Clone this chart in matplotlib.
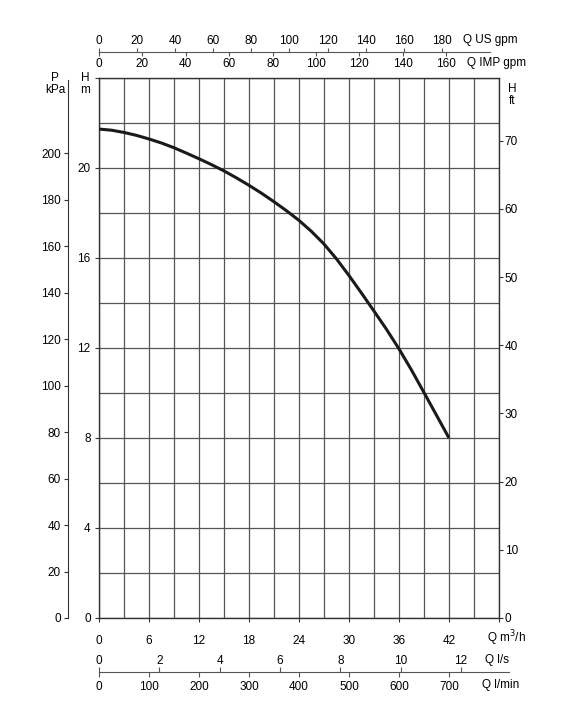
import numpy as np
import matplotlib
matplotlib.use("Agg")
import matplotlib.pyplot as plt

plt.rcParams['font.family'] = ['Liberation Sans', 'DejaVu Sans']

# Pump curve: flow in m3/h, head in m
q_m3h = [0, 1.5, 3, 4.5, 6, 7.5, 9, 10.5, 12, 13.5, 15, 16.5, 18, 19.5, 21,
         22.5, 24, 25.5, 27, 28.5, 30, 31.5, 33, 34.5, 36, 37.5, 39, 40.5, 42]
h_m = [21.73, 21.68, 21.58, 21.45, 21.29, 21.11, 20.90, 20.66, 20.41, 20.15,
       19.87, 19.56, 19.23, 18.88, 18.50, 18.10, 17.67, 17.18, 16.62, 15.96,
       15.22, 14.44, 13.64, 12.83, 11.96, 11.02, 10.02, 9.01, 8.0]

# Tick values of the scales
m3h_ticks = [0, 6, 12, 18, 24, 30, 36, 42]
hm_ticks = [0, 4, 8, 12, 16, 20]
kpa_ticks = [0, 20, 40, 60, 80, 100, 120, 140, 160, 180, 200]
ft_ticks = [0, 10, 20, 30, 40, 50, 60, 70]
usgpm_ticks = [0, 20, 40, 60, 80, 100, 120, 140, 160, 180]
impgpm_ticks = [0, 20, 40, 60, 80, 100, 120, 140, 160]
ls_ticks = [0, 2, 4, 6, 8, 10, 12]
lmin_ticks = [0, 100, 200, 300, 400, 500, 600, 700]

# Unit conversions as drawn on this chart
KPA_PER_M = 9.68
FT_PER_M = 3.3
USGPM_PER_M3H = 4.376
IMPGPM_PER_M3H = 3.84
M3H_PER_LS = 3.62
M3H_PER_LMIN = 0.06

W, H = 567, 725
fig = plt.figure(figsize=(W / 100, H / 100), dpi=100)


def rect(x0, y0, x1, y1):
    # pixel box (top-left origin) -> figure fraction rect
    return [x0 / W, 1 - y1 / H, (x1 - x0) / W, (y1 - y0) / H]


FS = 8.5
dark = '#333333'
gridc = '#555555'

# Main chart
ax = fig.add_axes(rect(99, 78, 499, 618))
ax.plot(q_m3h, h_m, color='#1a1a1a', lw=2.2, solid_capstyle='butt',
        solid_joinstyle='round', zorder=3)
ax.set_xlim(0, 48)
ax.set_ylim(0, 24)
ax.set_xticks(list(range(0, 49, 6)))
ax.set_xticklabels([str(v) for v in m3h_ticks] + [''])
ax.set_xticks(list(range(0, 49, 3)), minor=True)
ax.set_yticks(list(range(0, 25, 4)))
ax.set_yticklabels([str(v) for v in hm_ticks] + [''])
ax.set_yticks(list(range(0, 25, 2)), minor=True)
ax.grid(which='both', color=gridc, lw=0.9)
ax.tick_params(which='major', length=3, width=0.8, color=dark, labelsize=FS, pad=3)
ax.tick_params(axis='x', which='major', pad=9)
ax.tick_params(which='minor', length=0)
for s in ax.spines.values():
    s.set_color(dark)
    s.set_linewidth(1.0)

# Right axis in ft
axr = ax.twinx()
axr.set_ylim(0, 24 * FT_PER_M)
axr.set_yticks(ft_ticks)
axr.tick_params(length=3, width=0.8, color=dark, labelsize=FS, pad=1)
for s in axr.spines.values():
    s.set_visible(False)

# Left axis in kPa
axp = fig.add_axes(rect(68, 78, 68.01, 618))
axp.set_ylim(0, 24 * KPA_PER_M)
axp.set_yticks(kpa_ticks)
axp.tick_params(axis='y', length=3, width=0.8, color=dark, labelsize=FS, pad=2)
axp.xaxis.set_visible(False)
axp.patch.set_visible(False)
for k, s in axp.spines.items():
    s.set_visible(k == 'left')
axp.spines['left'].set_color(dark)
axp.spines['left'].set_bounds(0, 24 * KPA_PER_M - 1)

# Top scales: US gpm (above) and IMP gpm (below)
top_m3h = 48 * (490 - 99) / 400
axu = fig.add_axes(rect(99, 52.3, 490, 52.31), label='us')
axu.set_xlim(0, top_m3h * USGPM_PER_M3H)
axu.set_xticks(usgpm_ticks)
axu.xaxis.tick_top()
axu.yaxis.set_visible(False)
axu.patch.set_visible(False)
for k, s in axu.spines.items():
    s.set_visible(k == 'top')
axu.spines['top'].set_color(gridc)
axu.tick_params(axis='x', length=3, width=0.8, color=gridc, labelsize=FS, pad=0.8)

axi = fig.add_axes(rect(99, 52.3, 490, 52.31), label='imp')
axi.set_xlim(0, top_m3h * IMPGPM_PER_M3H)
axi.set_xticks(impgpm_ticks)
axi.yaxis.set_visible(False)
axi.patch.set_visible(False)
for s in axi.spines.values():
    s.set_visible(False)
axi.tick_params(axis='x', length=3, width=0.8, color=gridc, labelsize=FS, pad=1)

# Bottom scales: l/s (above) and l/min (below)
bot_m3h = 48 * (509 - 99) / 400
axs = fig.add_axes(rect(99, 672.3, 509, 672.31), label='ls')
axs.set_xlim(0, bot_m3h / M3H_PER_LS)
axs.set_xticks(ls_ticks)
axs.xaxis.tick_top()
axs.yaxis.set_visible(False)
axs.patch.set_visible(False)
for k, s in axs.spines.items():
    s.set_visible(k == 'top')
axs.spines['top'].set_color(gridc)
axs.tick_params(axis='x', length=3.5, width=0.8, color=gridc, labelsize=FS, pad=0.5)

axm = fig.add_axes(rect(99, 672.3, 509, 672.31), label='lmin')
axm.set_xlim(0, bot_m3h / M3H_PER_LMIN)
axm.set_xticks(lmin_ticks)
axm.yaxis.set_visible(False)
axm.patch.set_visible(False)
for s in axm.spines.values():
    s.set_visible(False)
axm.tick_params(axis='x', length=3.5, width=0.8, color=gridc, labelsize=FS, pad=3)

# Unit labels
def txt(x, y, s, ha='left'):
    fig.text(x / W, 1 - y / H, s, ha=ha, va='center', fontsize=FS, linespacing=1.0)

txt(463, 40, 'Q US gpm')
txt(467, 63, 'Q IMP gpm')
txt(487, 638, 'Q m$^3$/h')
txt(485, 660, 'Q l/s')
txt(482, 685, 'Q l/min')
txt(55, 84, 'P\nkPa', ha='center')
txt(85, 84, 'H\nm', ha='center')
txt(512, 95, 'H\nft', ha='center')

fig.savefig('out.png', dpi=100, facecolor='white')
